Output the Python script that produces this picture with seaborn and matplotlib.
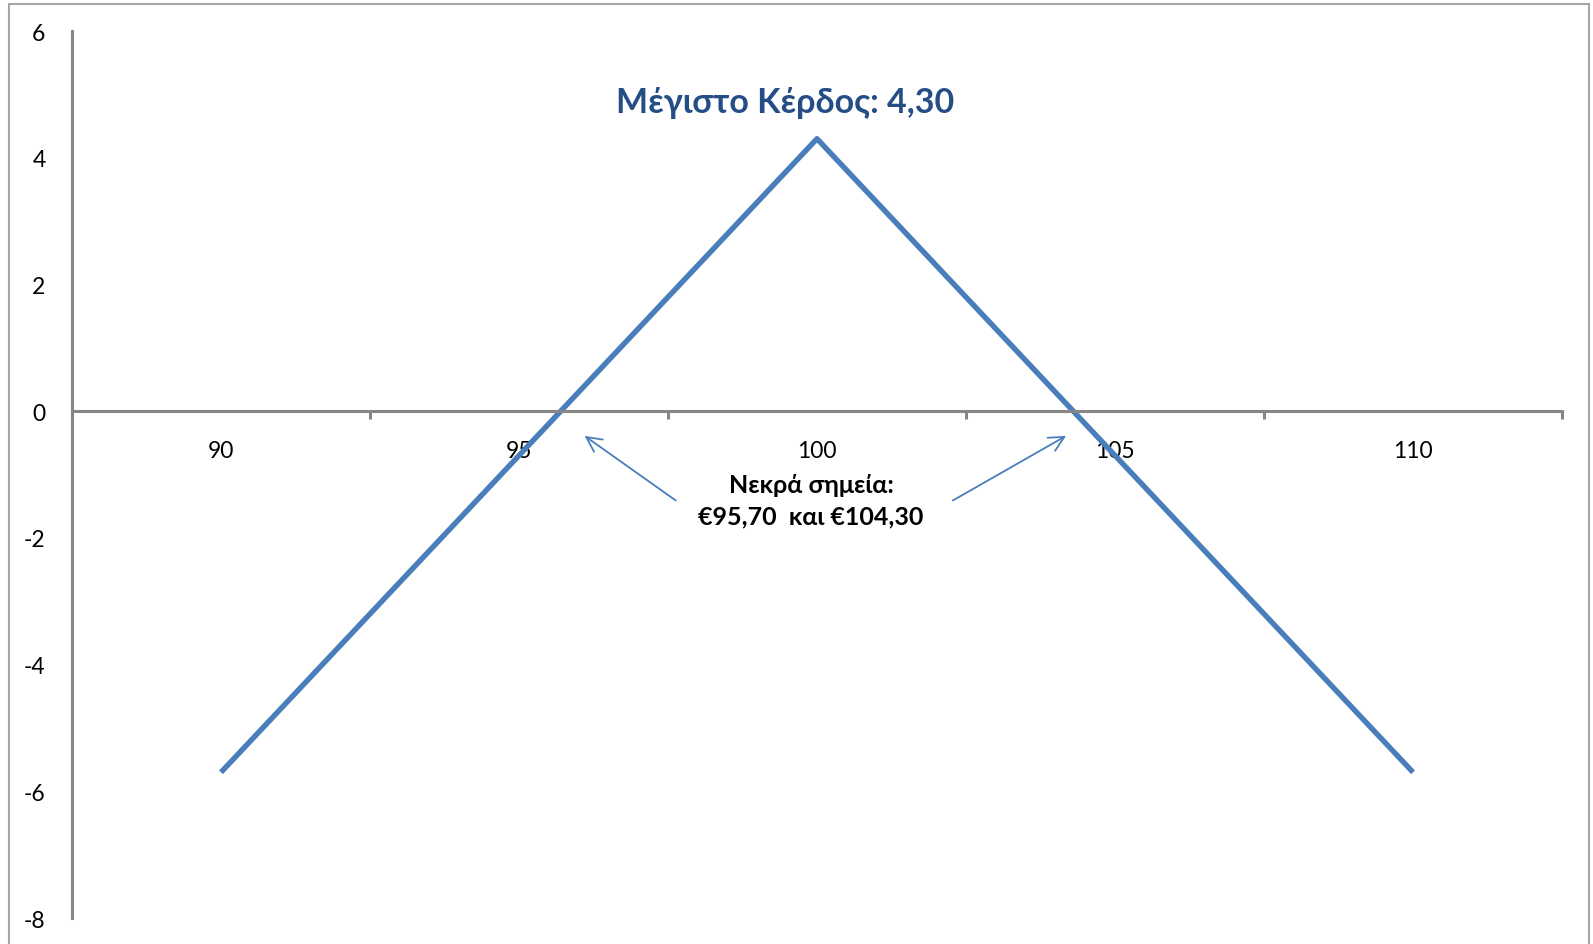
import matplotlib
matplotlib.use("Agg")
import matplotlib.pyplot as plt
from matplotlib.patches import Rectangle
import seaborn as sns
import pandas as pd

# Payoff of the position at expiry for a range of underlying prices
prices = [90, 95, 100, 105, 110]
profit = [-5.7, -0.7, 4.3, -0.7, -5.7]
y_ticks = [-8, -6, -4, -2, 0, 2, 4, 6]
breakevens = [95.7, 104.3]
max_profit = 4.3

title_text = "Μέγιστο Κέρδος: 4,30"
note_text = "Νεκρά σημεία:\n€95,70  και €104,30"

sns.set_theme(style="white")
plt.rcParams["font.family"] = ["Lato", "DejaVu Sans"]
plt.rcParams["axes.unicode_minus"] = False

df = pd.DataFrame({"price": prices, "profit": profit})

fig = plt.figure(figsize=(15.93, 9.45), dpi=100)
ax = fig.add_axes([72 / 1593, 1 - 919 / 945, (1562 - 72) / 1593, (919 - 32) / 945])

line_color = "#4A7EBB"
axis_color = "#868686"

sns.lineplot(data=df, x="price", y="profit", ax=ax, color=line_color,
             linewidth=3.9, solid_capstyle="butt", solid_joinstyle="round")

ax.set_xlim(87.5, 112.5)
ax.set_ylim(-8, 6)
ax.set_xlabel("")
ax.set_ylabel("")

# Spines: vertical axis on the left, category axis through zero
for side in ("top", "right"):
    ax.spines[side].set_visible(False)
ax.spines["left"].set_color(axis_color)
ax.spines["left"].set_linewidth(2.2)
ax.spines["bottom"].set_position(("data", 0))
ax.spines["bottom"].set_color(axis_color)
ax.spines["bottom"].set_linewidth(2.2)

# Y ticks: labels only
ax.set_yticks(y_ticks)
ax.set_yticklabels([str(v) for v in y_ticks])
ax.tick_params(axis="y", which="both", length=0, pad=19, labelsize=16.5,
               labelcolor="black")

# X: tick marks between categories, labels centred on categories
ax.set_xticks([92.5, 97.5, 102.5, 107.5, 112.5])
ax.set_xticklabels([])
ax.set_xticks(prices, minor=True)
ax.set_xticklabels([str(p) for p in prices], minor=True)
ax.tick_params(axis="x", which="major", direction="out", length=6,
               width=2.2, color=axis_color, bottom=True)
ax.tick_params(axis="x", which="minor", length=0, pad=21, labelsize=16.5,
               labelcolor="black", bottom=True)

# Annotations
ax.text(99.46, 4.88, title_text, ha="center", va="center", fontsize=24.5,
        fontweight="bold", color="#254E86")
ax.text(99.9, -1.4, note_text, ha="center", va="center", fontsize=18,
        fontweight="bold", color="black", linespacing=1.45)

arrow_props = dict(arrowstyle="->,head_length=0.9,head_width=0.45",
                   color=line_color, lw=1.3, shrinkA=0, shrinkB=0)
ax.annotate("", xy=(96.1, -0.39), xytext=(97.63, -1.41), arrowprops=arrow_props)
ax.annotate("", xy=(104.18, -0.39), xytext=(102.28, -1.41), arrowprops=arrow_props)

# Chart-area border
fig.patches.append(Rectangle((9 / 1593, -0.02), (1589 - 9) / 1593, 1.02 - 5 / 945,
                             transform=fig.transFigure, fill=False,
                             edgecolor="#A6A6A6", linewidth=1.5))

fig.savefig("out.png", dpi=100, facecolor="white")
